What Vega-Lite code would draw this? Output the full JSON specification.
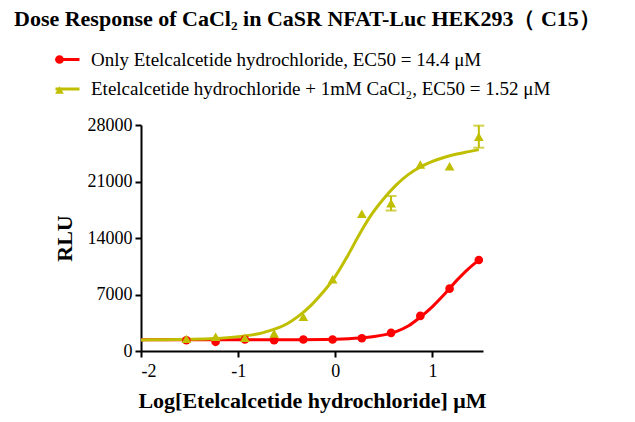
{
  "$schema": "https://vega.github.io/schema/vega-lite/v6.json",
  "width": 342,
  "height": 226,
  "autosize": {"type": "none"},
  "padding": {"left": 141, "top": 125, "right": 152, "bottom": 71},
  "background": "white",
  "title": {
    "text": "Dose Response of CaCl₂ in CaSR NFAT-Luc HEK293（ C15）",
    "anchor": "start",
    "frame": "group",
    "font": "Liberation Serif",
    "fontSize": 22,
    "fontWeight": "bold",
    "color": "black",
    "dx": -127,
    "offset": 15
  },
  "datasets": {
    "points": [
      {"series": "Only Etelcalcetide hydrochloride, EC50 = 14.4 μM", "logx": -1.533, "rlu": 1335},
      {"series": "Only Etelcalcetide hydrochloride, EC50 = 14.4 μM", "logx": -1.232, "rlu": 1140},
      {"series": "Only Etelcalcetide hydrochloride, EC50 = 14.4 μM", "logx": -0.931, "rlu": 1420},
      {"series": "Only Etelcalcetide hydrochloride, EC50 = 14.4 μM", "logx": -0.630, "rlu": 1335},
      {"series": "Only Etelcalcetide hydrochloride, EC50 = 14.4 μM", "logx": -0.329, "rlu": 1420},
      {"series": "Only Etelcalcetide hydrochloride, EC50 = 14.4 μM", "logx": -0.028, "rlu": 1420},
      {"series": "Only Etelcalcetide hydrochloride, EC50 = 14.4 μM", "logx": 0.273, "rlu": 1580},
      {"series": "Only Etelcalcetide hydrochloride, EC50 = 14.4 μM", "logx": 0.574, "rlu": 2250},
      {"series": "Only Etelcalcetide hydrochloride, EC50 = 14.4 μM", "logx": 0.875, "rlu": 4350},
      {"series": "Only Etelcalcetide hydrochloride, EC50 = 14.4 μM", "logx": 1.176, "rlu": 7725},
      {"series": "Only Etelcalcetide hydrochloride, EC50 = 14.4 μM", "logx": 1.477, "rlu": 11270},
      {"series": "Etelcalcetide hydrochloride + 1mM CaCl₂, EC50 = 1.52 μM", "logx": -1.533, "rlu": 1500},
      {"series": "Etelcalcetide hydrochloride + 1mM CaCl₂, EC50 = 1.52 μM", "logx": -1.232, "rlu": 1755},
      {"series": "Etelcalcetide hydrochloride + 1mM CaCl₂, EC50 = 1.52 μM", "logx": -0.931, "rlu": 1630},
      {"series": "Etelcalcetide hydrochloride + 1mM CaCl₂, EC50 = 1.52 μM", "logx": -0.630, "rlu": 2160},
      {"series": "Etelcalcetide hydrochloride + 1mM CaCl₂, EC50 = 1.52 μM", "logx": -0.329, "rlu": 4230},
      {"series": "Etelcalcetide hydrochloride + 1mM CaCl₂, EC50 = 1.52 μM", "logx": -0.028, "rlu": 8880},
      {"series": "Etelcalcetide hydrochloride + 1mM CaCl₂, EC50 = 1.52 μM", "logx": 0.273, "rlu": 17000},
      {"series": "Etelcalcetide hydrochloride + 1mM CaCl₂, EC50 = 1.52 μM", "logx": 0.574, "rlu": 18300, "lo": 17400, "hi": 19200},
      {"series": "Etelcalcetide hydrochloride + 1mM CaCl₂, EC50 = 1.52 μM", "logx": 0.875, "rlu": 23100},
      {"series": "Etelcalcetide hydrochloride + 1mM CaCl₂, EC50 = 1.52 μM", "logx": 1.176, "rlu": 22900},
      {"series": "Etelcalcetide hydrochloride + 1mM CaCl₂, EC50 = 1.52 μM", "logx": 1.477, "rlu": 26550, "lo": 25190, "hi": 27920}
    ],
    "curve": [
      {"series": "Only Etelcalcetide hydrochloride, EC50 = 14.4 μM", "logx": -2.0, "rlu": 1400},
      {"series": "Only Etelcalcetide hydrochloride, EC50 = 14.4 μM", "logx": -1.0, "rlu": 1400},
      {"series": "Only Etelcalcetide hydrochloride, EC50 = 14.4 μM", "logx": -0.5, "rlu": 1407},
      {"series": "Only Etelcalcetide hydrochloride, EC50 = 14.4 μM", "logx": 0.0, "rlu": 1465},
      {"series": "Only Etelcalcetide hydrochloride, EC50 = 14.4 μM", "logx": 0.25, "rlu": 1600},
      {"series": "Only Etelcalcetide hydrochloride, EC50 = 14.4 μM", "logx": 0.5, "rlu": 1995},
      {"series": "Only Etelcalcetide hydrochloride, EC50 = 14.4 μM", "logx": 0.625, "rlu": 2410},
      {"series": "Only Etelcalcetide hydrochloride, EC50 = 14.4 μM", "logx": 0.75, "rlu": 3100},
      {"series": "Only Etelcalcetide hydrochloride, EC50 = 14.4 μM", "logx": 0.875, "rlu": 4200},
      {"series": "Only Etelcalcetide hydrochloride, EC50 = 14.4 μM", "logx": 1.0, "rlu": 5500},
      {"series": "Only Etelcalcetide hydrochloride, EC50 = 14.4 μM", "logx": 1.125, "rlu": 7050},
      {"series": "Only Etelcalcetide hydrochloride, EC50 = 14.4 μM", "logx": 1.25, "rlu": 8750},
      {"series": "Only Etelcalcetide hydrochloride, EC50 = 14.4 μM", "logx": 1.375, "rlu": 10250},
      {"series": "Only Etelcalcetide hydrochloride, EC50 = 14.4 μM", "logx": 1.477, "rlu": 11270},
      {"series": "Etelcalcetide hydrochloride + 1mM CaCl₂, EC50 = 1.52 μM", "logx": -2.0, "rlu": 1370},
      {"series": "Etelcalcetide hydrochloride + 1mM CaCl₂, EC50 = 1.52 μM", "logx": -1.75, "rlu": 1395},
      {"series": "Etelcalcetide hydrochloride + 1mM CaCl₂, EC50 = 1.52 μM", "logx": -1.5, "rlu": 1445},
      {"series": "Etelcalcetide hydrochloride + 1mM CaCl₂, EC50 = 1.52 μM", "logx": -1.25, "rlu": 1550},
      {"series": "Etelcalcetide hydrochloride + 1mM CaCl₂, EC50 = 1.52 μM", "logx": -1.0, "rlu": 1780},
      {"series": "Etelcalcetide hydrochloride + 1mM CaCl₂, EC50 = 1.52 μM", "logx": -0.75, "rlu": 2250},
      {"series": "Etelcalcetide hydrochloride + 1mM CaCl₂, EC50 = 1.52 μM", "logx": -0.625, "rlu": 2700},
      {"series": "Etelcalcetide hydrochloride + 1mM CaCl₂, EC50 = 1.52 μM", "logx": -0.5, "rlu": 3350},
      {"series": "Etelcalcetide hydrochloride + 1mM CaCl₂, EC50 = 1.52 μM", "logx": -0.375, "rlu": 4350},
      {"series": "Etelcalcetide hydrochloride + 1mM CaCl₂, EC50 = 1.52 μM", "logx": -0.25, "rlu": 5650},
      {"series": "Etelcalcetide hydrochloride + 1mM CaCl₂, EC50 = 1.52 μM", "logx": -0.125, "rlu": 7300},
      {"series": "Etelcalcetide hydrochloride + 1mM CaCl₂, EC50 = 1.52 μM", "logx": 0.0, "rlu": 9250},
      {"series": "Etelcalcetide hydrochloride + 1mM CaCl₂, EC50 = 1.52 μM", "logx": 0.125, "rlu": 11750},
      {"series": "Etelcalcetide hydrochloride + 1mM CaCl₂, EC50 = 1.52 μM", "logx": 0.25, "rlu": 14500},
      {"series": "Etelcalcetide hydrochloride + 1mM CaCl₂, EC50 = 1.52 μM", "logx": 0.375, "rlu": 16950},
      {"series": "Etelcalcetide hydrochloride + 1mM CaCl₂, EC50 = 1.52 μM", "logx": 0.5, "rlu": 18900},
      {"series": "Etelcalcetide hydrochloride + 1mM CaCl₂, EC50 = 1.52 μM", "logx": 0.625, "rlu": 20550},
      {"series": "Etelcalcetide hydrochloride + 1mM CaCl₂, EC50 = 1.52 μM", "logx": 0.75, "rlu": 21850},
      {"series": "Etelcalcetide hydrochloride + 1mM CaCl₂, EC50 = 1.52 μM", "logx": 0.875, "rlu": 22800},
      {"series": "Etelcalcetide hydrochloride + 1mM CaCl₂, EC50 = 1.52 μM", "logx": 1.0, "rlu": 23500},
      {"series": "Etelcalcetide hydrochloride + 1mM CaCl₂, EC50 = 1.52 μM", "logx": 1.125, "rlu": 24000},
      {"series": "Etelcalcetide hydrochloride + 1mM CaCl₂, EC50 = 1.52 μM", "logx": 1.25, "rlu": 24400},
      {"series": "Etelcalcetide hydrochloride + 1mM CaCl₂, EC50 = 1.52 μM", "logx": 1.375, "rlu": 24700},
      {"series": "Etelcalcetide hydrochloride + 1mM CaCl₂, EC50 = 1.52 μM", "logx": 1.477, "rlu": 24950}
    ]
  },
  "encoding": {
    "x": {
      "field": "logx",
      "type": "quantitative",
      "scale": {"domain": [-2, 1.52], "nice": false, "zero": false},
      "axis": {
        "title": "Log[Etelcalcetide hydrochloride] μM",
        "values": [-2, -1, 0, 1],
        "labelExpr": "datum.value < 0 ? '-' + abs(datum.value) : '' + datum.value",
        "grid": false,
        "domainColor": "black",
        "domainWidth": 2,
        "tickColor": "black",
        "tickWidth": 2,
        "tickSize": 6,
        "labelFont": "Liberation Serif",
        "labelFontSize": 18,
        "labelColor": "black",
        "labelPadding": 5,
        "titleFont": "Liberation Serif",
        "titleFontSize": 22,
        "titleFontWeight": "bold",
        "titleColor": "black",
        "titlePadding": 10
      }
    },
    "y": {
      "field": "rlu",
      "type": "quantitative",
      "scale": {"domain": [0, 28000], "nice": false},
      "axis": {
        "title": "RLU",
        "values": [0, 7000, 14000, 21000, 28000],
        "format": "d",
        "grid": false,
        "domainColor": "black",
        "domainWidth": 2,
        "tickColor": "black",
        "tickWidth": 2,
        "tickSize": 6,
        "labelFont": "Liberation Serif",
        "labelFontSize": 18,
        "labelColor": "black",
        "labelPadding": 3,
        "titleFont": "Liberation Serif",
        "titleFontSize": 22,
        "titleFontWeight": "bold",
        "titleColor": "black",
        "titlePadding": 11
      }
    }
  },
  "layer": [
    {
      "data": {"name": "curve"},
      "mark": {"type": "line", "strokeWidth": 3, "interpolate": "monotone"},
      "encoding": {
        "color": {
          "field": "series",
          "type": "nominal",
          "scale": {
            "domain": ["Only Etelcalcetide hydrochloride, EC50 = 14.4 μM", "Etelcalcetide hydrochloride + 1mM CaCl₂, EC50 = 1.52 μM"],
            "range": ["#ff0000", "#bfbf00"]
          },
          "legend": {
            "orient": "none",
            "legendX": -87,
            "legendY": -79,
            "title": null,
            "padding": 0,
            "symbolType": "stroke",
            "symbolSize": 576,
            "symbolStrokeWidth": 3,
            "labelOffset": 10,
            "rowPadding": 5.5,
            "labelFont": "Liberation Serif",
            "labelFontSize": 19,
            "labelColor": "black",
            "labelLimit": 600
          }
        }
      }
    },
    {
      "data": {"name": "points"},
      "transform": [{"filter": "isValid(datum.lo)"}],
      "mark": {"type": "rule", "strokeWidth": 2},
      "encoding": {
        "y": {"field": "lo", "type": "quantitative"},
        "y2": {"field": "hi"},
        "color": {"field": "series", "type": "nominal", "legend": null}
      }
    },
    {
      "data": {"name": "points"},
      "transform": [{"filter": "isValid(datum.lo)"}],
      "mark": {"type": "tick", "orient": "horizontal", "thickness": 2, "size": 11},
      "encoding": {
        "y": {"field": "lo", "type": "quantitative"},
        "color": {"field": "series", "type": "nominal", "legend": null}
      }
    },
    {
      "data": {"name": "points"},
      "transform": [{"filter": "isValid(datum.hi)"}],
      "mark": {"type": "tick", "orient": "horizontal", "thickness": 2, "size": 11},
      "encoding": {
        "y": {"field": "hi", "type": "quantitative"},
        "color": {"field": "series", "type": "nominal", "legend": null}
      }
    },
    {
      "data": {"name": "points"},
      "mark": {"type": "point", "filled": true, "opacity": 1},
      "encoding": {
        "color": {
          "field": "series",
          "type": "nominal",
          "legend": {
            "orient": "none",
            "legendX": -91,
            "legendY": -75,
            "title": null,
            "padding": 0,
            "symbolSize": 75,
            "symbolStrokeWidth": 0,
            "symbolOpacity": 1,
            "labelOffset": 29,
            "rowPadding": 10.5,
            "labelFont": "Liberation Serif",
            "labelFontSize": 19,
            "labelExpr": "''",
            "labelLimit": 600
          }
        },
        "shape": {
          "field": "series",
          "type": "nominal",
          "scale": {
            "domain": ["Only Etelcalcetide hydrochloride, EC50 = 14.4 μM", "Etelcalcetide hydrochloride + 1mM CaCl₂, EC50 = 1.52 μM"],
            "range": ["circle", "triangle-up"]
          },
          "legend": {
            "orient": "none",
            "legendX": -91,
            "legendY": -75,
            "title": null,
            "padding": 0,
            "symbolSize": 75,
            "symbolStrokeWidth": 0,
            "symbolOpacity": 1,
            "labelOffset": 29,
            "rowPadding": 10.5,
            "labelFont": "Liberation Serif",
            "labelFontSize": 19,
            "labelExpr": "''",
            "labelLimit": 600
          }
        },
        "size": {
          "field": "series",
          "type": "nominal",
          "scale": {
            "domain": ["Only Etelcalcetide hydrochloride, EC50 = 14.4 μM", "Etelcalcetide hydrochloride + 1mM CaCl₂, EC50 = 1.52 μM"],
            "range": [75, 95]
          },
          "legend": null
        }
      }
    }
  ],
  "resolve": {"legend": {"color": "independent", "shape": "independent"}},
  "config": {
    "view": {"stroke": null},
    "font": "Liberation Serif"
  }
}
